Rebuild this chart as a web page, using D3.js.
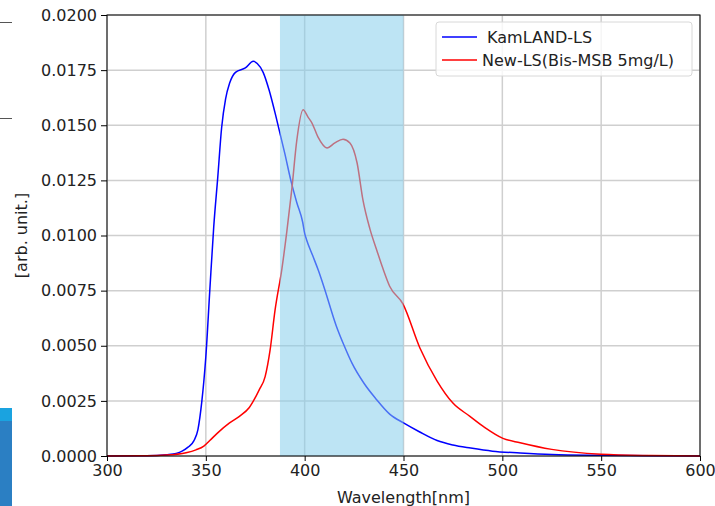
<!DOCTYPE html>
<html>
<head>
<meta charset="utf-8">
<script src="https://cdn.jsdelivr.net/npm/d3@7"></script>
<style>
  body { margin: 0; background: #fff; }
  svg { font-family: "DejaVu Sans", sans-serif; }
</style>
</head>
<body>
<div id="chart"></div>
<script>
// emission spectra
const kamlandNm = [300, 320, 330, 335, 338, 341, 344, 346, 348, 349, 350, 352, 354, 356, 358, 360, 362, 365, 370, 374, 376, 379, 382, 386, 390, 393, 396, 399, 400, 401, 404, 407, 410, 416, 420, 424, 430, 436, 443, 450, 458, 467, 475, 484, 495, 509, 525, 550, 575, 600];
const kamlandVal = [0, 0.00001, 0.00006, 0.00012, 0.00022, 0.0004, 0.0007, 0.0012, 0.0025, 0.0034, 0.0045, 0.0075, 0.0104, 0.0126, 0.0149, 0.0162, 0.0169, 0.0174, 0.0176, 0.0179, 0.0178, 0.0174, 0.0166, 0.0152, 0.0137, 0.0125, 0.0115, 0.0106, 0.0101, 0.0098, 0.0091, 0.0084, 0.0076, 0.0059, 0.0050, 0.0042, 0.0033, 0.0026, 0.0019, 0.0015, 0.0011, 0.0007, 0.0005, 0.00036, 0.00022, 0.00014, 0.00007, 0.00003, 0.00001, 0];

const newlsNm = [300, 320, 330, 340, 345, 349, 352, 356, 362, 367, 372, 377, 380, 382.5, 385, 388.5, 391, 393.5, 396, 399.2, 401.7, 403.7, 406.7, 411.3, 415.3, 419.4, 422.9, 426.5, 429.5, 433, 436.6, 439.6, 443, 449.7, 458.3, 467, 475, 483.6, 491, 500.3, 509, 525, 550, 575, 600];
const newlsVal = [0, 0.00001, 0.00004, 0.00015, 0.00028, 0.00045, 0.0007, 0.00105, 0.0015, 0.0018, 0.0022, 0.003, 0.0036, 0.0048, 0.0066, 0.0085, 0.0102, 0.0121, 0.0143, 0.0157, 0.01537, 0.0151, 0.01447, 0.01397, 0.0142, 0.01437, 0.0142, 0.0133, 0.0116, 0.0103, 0.0093, 0.0085, 0.0077, 0.0069, 0.0049, 0.0034, 0.0024, 0.0018, 0.0013, 0.0008, 0.0006, 0.0003, 0.00008, 0.00002, 0];

const seriesNames = [" KamLAND-LS", "New-LS(Bis-MSB 5mg/L)"];
const seriesColors = ["#0000ff", "#ff0000"];
const bandRange = [387.5, 450];
const xTicks = [300, 350, 400, 450, 500, 550, 600];
const yTicks = [0, 0.0025, 0.005, 0.0075, 0.01, 0.0125, 0.015, 0.0175, 0.02];

const W = 715, H = 506;
const margin = { top: 15, right: 15, bottom: 50, left: 107 };
const width = W - margin.left - margin.right;
const height = H - margin.top - margin.bottom;
const textColor = "#222";

const root = d3.select("#chart").append("svg")
  .attr("width", W)
  .attr("height", H);

// bits of the neighbouring screenshot at the left edge
root.append("line").attr("x1", 0).attr("x2", 12).attr("y1", 22.5).attr("y2", 22.5)
  .attr("stroke", "#555").attr("stroke-width", 1);
root.append("line").attr("x1", 0).attr("x2", 12).attr("y1", 118.5).attr("y2", 118.5)
  .attr("stroke", "#555").attr("stroke-width", 1);
root.append("rect").attr("x", 0).attr("y", 408).attr("width", 12).attr("height", 98).attr("fill", "#2b7fc3");
root.append("rect").attr("x", 0).attr("y", 408).attr("width", 12).attr("height", 13).attr("fill", "#1aa3e0");

const svg = root.append("g")
  .attr("transform", `translate(${margin.left},${margin.top})`);

const x = d3.scaleLinear().domain([300, 600]).range([0, width]);
const y = d3.scaleLinear().domain([0, 0.02]).range([height, 0]);

// grid
svg.append("g").selectAll("line.gx")
  .data(xTicks).enter().append("line")
  .attr("x1", d => x(d)).attr("x2", d => x(d))
  .attr("y1", 0).attr("y2", height)
  .attr("stroke", "#cfcfcf").attr("stroke-width", 1.5);
svg.append("g").selectAll("line.gy")
  .data(yTicks).enter().append("line")
  .attr("x1", 0).attr("x2", width)
  .attr("y1", d => y(d)).attr("y2", d => y(d))
  .attr("stroke", "#cfcfcf").attr("stroke-width", 1.5);

const line = d3.line()
  .x(d => x(d[0]))
  .y(d => y(d[1]))
  .curve(d3.curveMonotoneX);

svg.append("path")
  .datum(kamlandNm.map((n, i) => [n, kamlandVal[i]]))
  .attr("d", line)
  .attr("fill", "none")
  .attr("stroke", seriesColors[0])
  .attr("stroke-width", 1.5);

svg.append("path")
  .datum(newlsNm.map((n, i) => [n, newlsVal[i]]))
  .attr("d", line)
  .attr("fill", "none")
  .attr("stroke", seriesColors[1])
  .attr("stroke-width", 1.5);

// shaded band on top of the lines
svg.append("rect")
  .attr("x", x(bandRange[0]))
  .attr("y", 0)
  .attr("width", x(bandRange[1]) - x(bandRange[0]))
  .attr("height", height)
  .attr("fill", "#87ceeb")
  .attr("fill-opacity", 0.55);

// axes
const xAxis = svg.append("g")
  .attr("transform", `translate(0,${height})`)
  .call(d3.axisBottom(x).tickValues(xTicks).tickFormat(d3.format("d")).tickSize(5).tickPadding(4));
const yAxis = svg.append("g")
  .call(d3.axisLeft(y).tickValues(yTicks).tickFormat(d3.format(".4f")).tickSize(6).tickPadding(4));
[xAxis, yAxis].forEach(a => {
  a.selectAll("text").attr("font-size", 16).attr("fill", textColor).attr("font-family", "DejaVu Sans");
  a.selectAll("line").attr("stroke", "#000").attr("stroke-width", 1);
  a.select(".domain").remove();
});

svg.append("rect")
  .attr("x", 0).attr("y", 0)
  .attr("width", width).attr("height", height)
  .attr("fill", "none")
  .attr("stroke", "#000")
  .attr("stroke-width", 1);

// axis labels
svg.append("text")
  .attr("text-anchor", "middle")
  .attr("x", width / 2)
  .attr("y", height + 47)
  .attr("font-size", 16)
  .attr("fill", textColor)
  .text("Wavelength[nm]");

svg.append("text")
  .attr("text-anchor", "middle")
  .attr("transform", `translate(${-80},${height / 2}) rotate(-90)`)
  .attr("font-size", 16)
  .attr("fill", textColor)
  .text("[arb. unit.]");

// legend
const legend = svg.append("g").attr("transform", `translate(${436 - margin.left},${22 - margin.top})`);
legend.append("rect")
  .attr("width", 256).attr("height", 54)
  .attr("rx", 3)
  .attr("fill", "#fff").attr("fill-opacity", 0.8)
  .attr("stroke", "#d8d8d8");
seriesNames.forEach((name, i) => {
  const ly = 15 + i * 23;
  legend.append("line")
    .attr("x1", 6).attr("x2", 41)
    .attr("y1", ly).attr("y2", ly)
    .attr("stroke", seriesColors[i]).attr("stroke-width", 1.5);
  legend.append("text")
    .attr("x", 46).attr("y", ly + 6)
    .attr("font-size", 16)
    .attr("fill", textColor)
    .attr("xml:space", "preserve")
    .style("white-space", "pre")
    .text(name);
});
</script>
</body>
</html>
